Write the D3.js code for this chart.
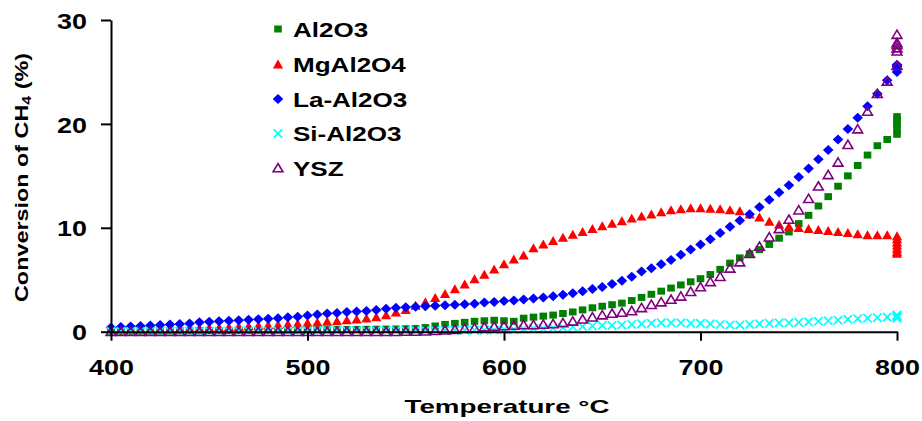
<!DOCTYPE html>
<html>
<head>
<meta charset="utf-8">
<script src="https://cdn.jsdelivr.net/npm/d3@7/dist/d3.min.js"></script>
<style>
  html, body { margin: 0; padding: 0; background: #fff; }
  svg { display: block; }
  text { font-family: "Liberation Sans", Arial, sans-serif; font-weight: bold; fill: #000; }
</style>
</head>
<body>
<svg id="chart" width="922" height="421"></svg>
<script>
// ---------- DATA ----------
const temperatures = [400,405,410,415,420,425,430,435,440,445,450,455,460,465,470,475,480,485,490,495,
  500,505,510,515,520,525,530,535,540,545,550,555,560,565,570,575,580,585,590,595,
  600,605,610,615,620,625,630,635,640,645,650,655,660,665,670,675,680,685,690,695,
  700,705,710,715,720,725,730,735,740,745,750,755,760,765,770,775,780,785,790,795];
const holdTemperature = 800;

const al2o3 = [0.02,0.03,0.04,0.05,0.05,0.06,0.07,0.08,0.08,0.09,0.1,0.1,0.11,0.12,0.12,0.13,0.14,0.15,0.15,0.16,
  0.17,0.18,0.19,0.2,0.21,0.22,0.23,0.24,0.25,0.26,0.28,0.3,0.4,0.55,0.7,0.8,0.9,1.0,1.05,1.1,
  1.05,1.0,1.3,1.4,1.5,1.6,1.75,1.9,2.1,2.3,2.45,2.6,2.75,3.0,3.3,3.6,3.9,4.2,4.5,4.8,
  5.1,5.5,6.0,6.6,7.1,7.5,7.9,8.4,9.0,9.6,10.4,11.2,12.1,13.0,14.0,15.0,16.0,17.0,17.9,18.5];
const al2o3Hold = [19.0,19.5,20.0,20.4,20.7];

const mgal2o4 = [0.1,0.12,0.14,0.16,0.18,0.2,0.23,0.26,0.29,0.32,0.36,0.4,0.44,0.48,0.53,0.58,0.62,0.66,0.72,0.78,
  0.84,0.9,0.96,1.02,1.1,1.18,1.27,1.4,1.6,1.85,2.1,2.5,2.85,3.25,3.65,4.1,4.55,5.05,5.5,6.0,
  6.5,6.95,7.35,8.05,8.4,8.75,9.05,9.35,9.6,9.9,10.15,10.4,10.65,10.9,11.1,11.3,11.5,11.7,11.8,11.9,
  11.9,11.85,11.8,11.7,11.6,11.3,11.0,10.6,10.3,10.1,10.0,9.9,9.8,9.7,9.6,9.5,9.4,9.3,9.3,9.3];
const mgal2o4Hold = [9.2,8.9,8.6,8.3,8.0,7.7,7.5];

const laal2o3 = [0.4,0.45,0.5,0.55,0.6,0.65,0.7,0.75,0.8,0.9,0.95,1.0,1.05,1.1,1.15,1.2,1.25,1.3,1.4,1.45,
  1.55,1.65,1.75,1.8,1.9,1.95,2.0,2.1,2.2,2.3,2.35,2.4,2.45,2.5,2.55,2.6,2.65,2.7,2.8,2.85,
  2.95,3.0,3.1,3.2,3.3,3.4,3.55,3.7,3.9,4.1,4.3,4.6,4.9,5.3,5.8,6.1,6.5,6.9,7.4,7.9,
  8.4,8.9,9.5,10.1,10.7,11.3,12.0,12.7,13.4,14.1,14.9,15.7,16.6,17.5,18.5,19.5,20.6,21.7,22.9,24.2];
const laal2o3Hold = [25.0,25.3,25.5,25.6,25.7];

const sial2o3 = [0.03,0.03,0.04,0.04,0.05,0.05,0.05,0.06,0.06,0.06,0.07,0.07,0.07,0.08,0.08,0.08,0.09,0.09,0.09,0.1,
  0.1,0.1,0.1,0.11,0.11,0.11,0.12,0.12,0.12,0.13,0.13,0.13,0.14,0.14,0.14,0.15,0.15,0.15,0.15,0.16,
  0.2,0.2,0.25,0.3,0.3,0.35,0.4,0.45,0.5,0.55,0.6,0.6,0.65,0.7,0.75,0.8,0.85,0.85,0.85,0.8,
  0.8,0.75,0.7,0.65,0.65,0.7,0.75,0.8,0.85,0.85,0.9,0.95,1.0,1.05,1.1,1.2,1.25,1.3,1.35,1.4];
const sial2o3Hold = [1.3,1.4,1.5,1.55,1.6];

const ysz = [0.0,0.0,0.0,0.0,0.0,0.0,0.0,0.0,0.0,0.0,0.0,0.0,0.0,0.0,0.0,0.0,0.0,0.0,0.0,0.0,
  0.0,0.0,0.0,0.0,0.0,0.0,0.0,0.0,0.0,0.0,0.02,0.03,0.05,0.1,0.15,0.2,0.3,0.35,0.45,0.5,
  0.55,0.6,0.65,0.65,0.7,0.75,0.85,1.0,1.2,1.4,1.6,1.75,1.85,2.0,2.3,2.6,2.85,3.1,3.4,3.85,
  4.3,4.8,5.3,6.1,6.7,7.5,8.2,9.1,9.9,10.8,11.7,12.8,14.0,15.1,16.3,18.0,19.5,21.2,22.9,24.1];
const yszHold = [25.6,27.0,27.3,27.6,27.8,28.6];

const seriesNames = ["Al2O3","MgAl2O4","La-Al2O3","Si-Al2O3","YSZ"];
const seriesValues = [al2o3, mgal2o4, laal2o3, sial2o3, ysz];
const seriesHold = [al2o3Hold, mgal2o4Hold, laal2o3Hold, sial2o3Hold, yszHold];
const xTicks = [400,500,600,700,800];
const yTicks = [0,10,20,30];

// ---------- STYLE ----------
const colors = ["#008000","#ff0000","#0000ff","#00ffff","#800080"];
const shapes = ["square","triangle","diamond","cross","openTriangle"];

const svg = d3.select("#chart");
const x = d3.scaleLinear().domain([400,800]).range([111,897]);
const y = d3.scaleLinear().domain([0,30]).range([331.7,20]);

function shapePath(kind) {
  switch (kind) {
    case "square": return "M-3.8,-3.5H3.8V3.5H-3.8Z";
    case "triangle": return "M0,-4.9L5.1,4.1H-5.1Z";
    case "diamond": return "M0,-5L5.3,0L0,5L-5.3,0Z";
    case "cross": return "M-4.2,-4.2L4.2,4.2M-4.2,4.2L4.2,-4.2";
    case "openTriangle": return "M0,-4.5L4.9,3.8H-4.9Z";
  }
}
function styleMark(sel, kind, color) {
  sel.attr("d", shapePath(kind));
  if (kind === "cross") sel.attr("fill","none").attr("stroke",color).attr("stroke-width",1.7);
  else if (kind === "openTriangle") sel.attr("fill","none").attr("stroke",color).attr("stroke-width",1.6);
  else sel.attr("fill",color).attr("stroke","none");
}

// ---------- MARKS ----------
seriesNames.forEach((name, i) => {
  const pts = temperatures.map((t, j) => ({t, v: seriesValues[i][j]}))
    .concat(seriesHold[i].map(v => ({t: holdTemperature, v})));
  const g = svg.append("g").attr("class","series");
  g.selectAll("path").data(pts).join("path")
    .attr("transform", d => `translate(${x(d.t)},${y(d.v)})`)
    .call(styleMark, shapes[i], colors[i]);
});

// ---------- AXES ----------
function stretch(sel, factor) {
  sel.each(function() {
    const w = this.getComputedTextLength();
    d3.select(this).attr("textLength", w * factor).attr("lengthAdjust","spacingAndGlyphs");
  });
}

const xAxis = svg.append("g").attr("transform", `translate(0,${y(0)})`)
  .call(d3.axisBottom(x).tickValues(xTicks).tickSize(9).tickSizeOuter(0).tickPadding(19));
const yAxis = svg.append("g").attr("transform", `translate(${x(400)},0)`)
  .call(d3.axisLeft(y).tickValues(yTicks).tickSize(10).tickSizeOuter(0).tickPadding(14));

[xAxis, yAxis].forEach(a => {
  a.select(".domain").attr("stroke","#000").attr("stroke-width",2);
  a.selectAll(".tick line").attr("stroke","#000").attr("stroke-width",2);
  a.selectAll(".tick text").attr("font-size",21.5).attr("font-family",null).attr("font-weight","bold").attr("fill","#000");
});
yAxis.selectAll(".tick text").attr("dy","0.38em");
xAxis.selectAll(".tick text").call(stretch, 1.25);
yAxis.selectAll(".tick text").call(stretch, 1.25);

// axis titles
svg.append("text")
  .attr("x", 507).attr("y", 413)
  .attr("text-anchor","middle").attr("font-size",19)
  .text("Temperature °C")
  .attr("textLength", 205).attr("lengthAdjust","spacingAndGlyphs");

const yt = svg.append("text")
  .attr("transform","translate(28,177.5) rotate(-90)")
  .attr("text-anchor","middle").attr("font-size",19);
yt.append("tspan").text("Conversion of CH");
yt.append("tspan").attr("font-size",13).attr("dy",3).text("4");
yt.append("tspan").attr("dy",-3).text(" (%)");
yt.attr("textLength", 249).attr("lengthAdjust","spacingAndGlyphs");

// ---------- LEGEND ----------
const legendY = [29, 64.5, 99, 133.5, 168];
const legend = svg.append("g");
seriesNames.forEach((name, i) => {
  legend.append("path")
    .attr("transform", `translate(278,${legendY[i]})`)
    .call(styleMark, shapes[i], colors[i]);
  legend.append("text")
    .attr("x", 293).attr("y", legendY[i] + 7.5)
    .attr("font-size", 21)
    .text(name)
    .call(stretch, 1.24);
});
</script>
</body>
</html>
